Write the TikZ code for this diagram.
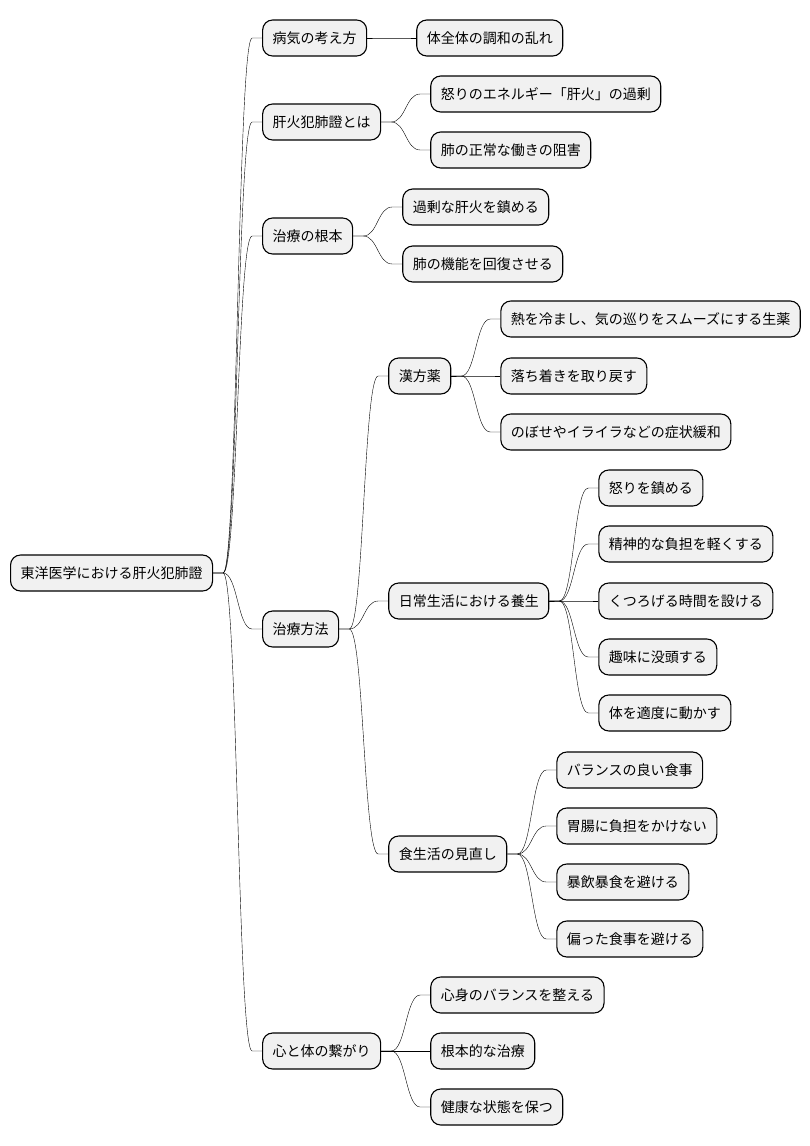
\documentclass[tikz,border=0pt]{standalone}
\usepackage{fontspec}
\usepackage{xcolor}
\usetikzlibrary{positioning,calc}
\newfontfamily\cjk{Noto Sans CJK JP}
\definecolor{nodegray}{RGB}{241, 241, 241}

\begin{document}
\begin{tikzpicture}[
    x=1pt, y=1pt,
    every node/.style={font=\cjk\fontsize{14}{17}\selectfont},
    topic/.style={rectangle, rounded corners=10pt, draw=black, fill=nodegray, line width=1.1pt, inner xsep=10pt, minimum height=36pt, text height=12pt, text depth=2pt, anchor=west},
    branch/.style={line width=0.8pt, to path={let \p1=(\tikztostart), \p2=(\tikztotarget) in
        -- (\x1+10pt,\y1) .. controls ({(\x1+\x2)/2},\y1) and ({(\x1+\x2)/2},\y2) .. (\x2-10pt,\y2) -- (\tikztotarget)}}
]
\useasboundingbox (0,0) rectangle (810,-1146);

% Root
\node[topic] (root) at (10,-573) {東洋医学における肝火犯肺證};

% First level
\node[topic] (view) at ($(root.east)+(49,535)$) {病気の考え方};
\node[topic] (liver) at ($(root.east)+(49,451)$) {肝火犯肺證とは};
\node[topic] (basis) at ($(root.east)+(49,337)$) {治療の根本};
\node[topic] (method) at ($(root.east)+(49,-56)$) {治療方法};
\node[topic] (mind) at ($(root.east)+(49,-478)$) {心と体の繋がり};

% Second level
\node[topic] (whole) at ($(view.east)+(49,0)$) {体全体の調和の乱れ};
\node[topic] (anger) at ($(liver.east)+(49,28)$) {怒りのエネルギー「肝火」の過剰};
\node[topic] (block) at ($(liver.east)+(49,-28)$) {肺の正常な働きの阻害};
\node[topic] (calm) at ($(basis.east)+(49,29)$) {過剰な肝火を鎮める};
\node[topic] (lung) at ($(basis.east)+(49,-28)$) {肺の機能を回復させる};
\node[topic] (kanpo) at ($(method.east)+(49,253)$) {漢方薬};
\node[topic] (daily) at ($(method.east)+(49,28)$) {日常生活における養生};
\node[topic] (diet) at ($(method.east)+(49,-225)$) {食生活の見直し};
\node[topic] (balance) at ($(mind.east)+(49,56)$) {心身のバランスを整える};
\node[topic] (radical) at ($(mind.east)+(49,0)$) {根本的な治療};
\node[topic] (health) at ($(mind.east)+(49,-56)$) {健康な状態を保つ};

% Third level
\node[topic] (herb) at ($(kanpo.east)+(49,57)$) {熱を冷まし、気の巡りをスムーズにする生薬};
\node[topic] (settle) at ($(kanpo.east)+(49,0)$) {落ち着きを取り戻す};
\node[topic] (symptom) at ($(kanpo.east)+(49,-56)$) {のぼせやイライラなどの症状緩和};
\node[topic] (soothe) at ($(daily.east)+(49,113)$) {怒りを鎮める};
\node[topic] (stress) at ($(daily.east)+(49,57)$) {精神的な負担を軽くする};
\node[topic] (relax) at ($(daily.east)+(49,0)$) {くつろげる時間を設ける};
\node[topic] (hobby) at ($(daily.east)+(49,-56)$) {趣味に没頭する};
\node[topic] (exercise) at ($(daily.east)+(49,-112)$) {体を適度に動かす};
\node[topic] (meal) at ($(diet.east)+(49,84)$) {バランスの良い食事};
\node[topic] (stomach) at ($(diet.east)+(49,28)$) {胃腸に負担をかけない};
\node[topic] (binge) at ($(diet.east)+(49,-28)$) {暴飲暴食を避ける};
\node[topic] (biased) at ($(diet.east)+(49,-85)$) {偏った食事を避ける};

% Connections
\foreach \child in {view, liver, basis, method, mind}
    \draw (root.east) to[branch] (\child.west);
\draw (view.east) to[branch] (whole.west);
\foreach \child in {anger, block}
    \draw (liver.east) to[branch] (\child.west);
\foreach \child in {calm, lung}
    \draw (basis.east) to[branch] (\child.west);
\foreach \child in {kanpo, daily, diet}
    \draw (method.east) to[branch] (\child.west);
\foreach \child in {balance, radical, health}
    \draw (mind.east) to[branch] (\child.west);
\foreach \child in {herb, settle, symptom}
    \draw (kanpo.east) to[branch] (\child.west);
\foreach \child in {soothe, stress, relax, hobby, exercise}
    \draw (daily.east) to[branch] (\child.west);
\foreach \child in {meal, stomach, binge, biased}
    \draw (diet.east) to[branch] (\child.west);

\end{tikzpicture}
\end{document}
